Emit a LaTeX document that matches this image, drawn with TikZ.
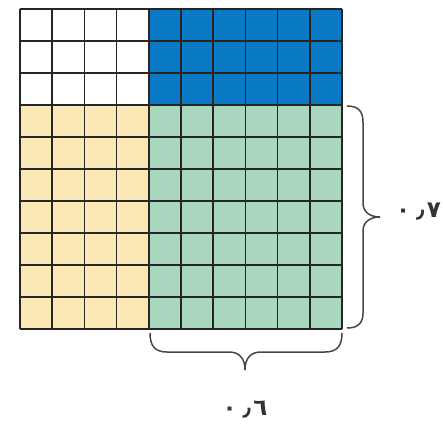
\documentclass[tikz,border=0pt]{standalone}
\usepackage{fontspec}
\newfontfamily\arabicfont[Script=Arabic]{DejaVu Sans}
\definecolor{cblue}{RGB}{10,122,198}
\definecolor{cyellow}{RGB}{252,232,180}
\definecolor{cgreen}{RGB}{170,216,190}
\definecolor{cbrace}{RGB}{70,70,70}
\tikzset{
  gridline/.style={line width=1.6pt, draw=black!85},
  bracepath/.style={line width=1.5pt, draw=cbrace},
  numlabel/.style={font=\arabicfont\bfseries\fontsize{23}{27}\selectfont, text=black!80, inner sep=0pt}
}
\begin{document}
\begin{tikzpicture}[x=1pt,y=-1pt]
\useasboundingbox (0,0) rectangle (443,435);
\fill[white] (0,0) rectangle (443,435);
\coordinate (tl) at (20,9);
\coordinate (br) at (342,329);
\coordinate (mid) at (148.8,105);
% coloured regions
\fill[cblue] (148.8,9) rectangle (342,105);
\fill[cyellow] (20,105) rectangle (148.8,329);
\fill[cgreen] (148.8,105) rectangle (342,329);
% grid lines
\foreach \i in {0,...,10} {
  \draw[gridline] ({20+32.2*\i},9) -- ({20+32.2*\i},329);
  \draw[gridline] (20,{9+32*\i}) -- (342,{9+32*\i});
}
% right brace
\draw[bracepath] (347,106) .. controls (357,106) and (363,110) .. (363,122)
  -- (363,203) .. controls (363,212) and (370,217) .. (380,217)
  .. controls (370,217) and (363,222) .. (363,231)
  -- (363,313) .. controls (363,324) and (357,328) .. (347,328);
% bottom brace
\draw[bracepath] (150,333) .. controls (150,346) and (155,352) .. (167,352)
  -- (229,352) .. controls (239,352) and (245,358) .. (245,370)
  .. controls (245,358) and (251,352) .. (261,352)
  -- (325,352) .. controls (337,352) and (342,346) .. (342,333);
% labels
\node[numlabel, anchor=east] (lr) at (441,212) {٠\hspace{6pt}٫\hspace{2pt}٧};
\node[numlabel] (lb) at (245,410) {٠\hspace{6pt}٫\hspace{2pt}٦};
\end{tikzpicture}
\end{document}
